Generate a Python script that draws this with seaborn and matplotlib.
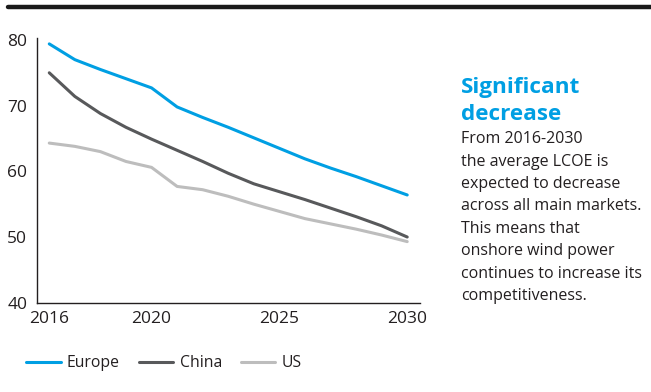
import matplotlib
matplotlib.use("Agg")
import matplotlib.pyplot as plt
import seaborn as sns
import pandas as pd
from matplotlib.lines import Line2D

years = list(range(2016, 2031))
europe = [79.4, 77.0, 75.5, 74.1, 72.7, 69.8, 68.2, 66.7, 65.1, 63.5, 61.9, 60.5, 59.2, 57.8, 56.4]
china = [75.0, 71.4, 68.8, 66.7, 64.9, 63.2, 61.5, 59.7, 58.1, 56.9, 55.7, 54.4, 53.1, 51.7, 50.0]
us = [64.3, 63.8, 63.0, 61.5, 60.6, 57.7, 57.2, 56.2, 55.0, 53.9, 52.8, 52.0, 51.2, 50.3, 49.3]
series_names = ["Europe", "China", "US"]
colors = ["#009FE3", "#58595B", "#BDBDBD"]
yticks = [40, 50, 60, 70, 80]
xticks = [2016, 2020, 2025, 2030]

df = pd.DataFrame({
    "year": years * 3,
    "value": europe + china + us,
    "region": [series_names[0]] * len(years) + [series_names[1]] * len(years) + [series_names[2]] * len(years),
})

sns.set_theme(style="white")
plt.rcParams["font.family"] = ["Open Sans", "DejaVu Sans"]
text_color = "#231F20"

fig = plt.figure(figsize=(6.51, 3.92), dpi=100)
ax = fig.add_axes([37 / 651, 1 - 302.7 / 392, (420 - 37) / 651, (302.7 - 38.3) / 392])

sns.lineplot(data=df, x="year", y="value", hue="region", palette=dict(zip(series_names, colors)),
             linewidth=2.2, ax=ax, legend=False)

ax.set_xlim(2015.52, 2030.5)
ax.set_ylim(40, 80.25)
ax.set_xticks(xticks)
ax.set_yticks(yticks)
ax.set_xlabel("")
ax.set_ylabel("")
for s in ["top", "right"]:
    ax.spines[s].set_visible(False)
for s in ["left", "bottom"]:
    ax.spines[s].set_color(text_color)
    ax.spines[s].set_linewidth(1.0)
ax.tick_params(axis="y", direction="in", length=3, width=1, color=text_color, pad=7,
               labelsize=12.5, labelcolor=text_color)
ax.tick_params(axis="x", length=0, pad=6, labelsize=12.5, labelcolor=text_color)

# top black rule
fig.add_artist(Line2D([8 / 651, 1], [1 - 7 / 392, 1 - 7 / 392], color="#1A1A1A", linewidth=3.2))

# side text
fig.text(461 / 651, 1 - 93 / 392, "Significant", color="#009FE3", fontsize=16.2, fontweight="bold",
         va="baseline", ha="left")
fig.text(461 / 651, 1 - 120 / 392, "decrease", color="#009FE3", fontsize=16.2, fontweight="bold",
         va="baseline", ha="left")
body = ["From 2016-2030", "the average LCOE is", "expected to decrease",
        "across all main markets.", "This means that", "onshore wind power",
        "continues to increase its", "competitiveness."]
for i, line in enumerate(body):
    fig.text(461 / 651, 1 - (143.3 + i * 22.4) / 392, line, color=text_color, fontsize=11.5,
             va="baseline", ha="left")

# legend
handles = [Line2D([0], [0], color=c, linewidth=2.2) for c in colors]
fig.legend(handles, series_names, loc="center left", bbox_to_anchor=(12 / 651, 1 - 363 / 392),
           ncol=3, frameon=False, fontsize=11.3, handlelength=2.2, handletextpad=0.4,
           columnspacing=1.2, labelcolor=text_color)

fig.savefig("out.png", dpi=100)
